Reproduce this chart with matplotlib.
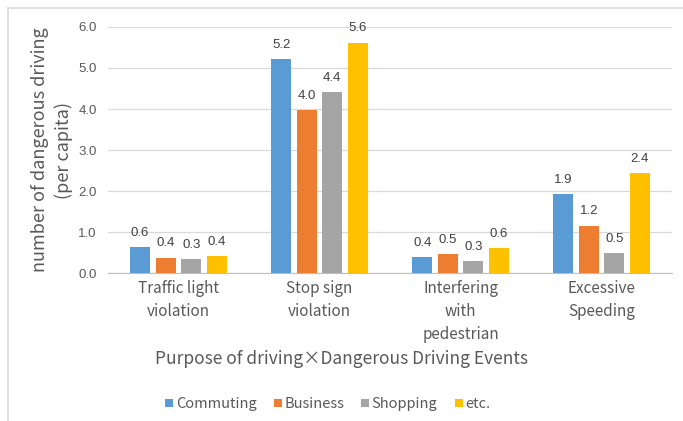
import matplotlib.pyplot as plt
import numpy as np

plt.rcParams['font.family'] = ['Noto Sans CJK JP', 'DejaVu Sans']

categories = ['Traffic light\nviolation', 'Stop sign\nviolation',
              'Interfering\nwith\npedestrian', 'Excessive\nSpeeding']
series = ['Commuting', 'Business', 'Shopping', 'etc.']
commuting = [0.63, 5.22, 0.39, 1.92]
business = [0.38, 3.97, 0.46, 1.16]
shopping = [0.34, 4.41, 0.29, 0.49]
etc = [0.41, 5.62, 0.62, 2.44]
yticks = [0.0, 1.0, 2.0, 3.0, 4.0, 5.0, 6.0]

colors = ['#5B9BD5', '#ED7D31', '#A5A5A5', '#FFC000']
text_grey = '#595959'

fig = plt.figure(figsize=(6.83, 4.21), dpi=100)
ax = fig.add_axes([0.158, 0.351, 0.826, 0.585])

# light frame around the whole chart
fig.patches.append(plt.Rectangle((0.012, -0.01), 1.0, 0.99, transform=fig.transFigure,
                                 fill=False, edgecolor='#D9D9D9', linewidth=1.2))

x = np.arange(len(categories))
step = 0.181
width = 0.142
for i, (name, vals) in enumerate(zip(series, [commuting, business, shopping, etc])):
    pos = x + (i - 1.5) * step
    bars = ax.bar(pos, vals, width, color=colors[i], label=name, zorder=3)
    for b, v in zip(bars, vals):
        ax.text(b.get_x() + b.get_width() / 2, v + 0.2, '%.1f' % v,
                ha='center', va='bottom', fontsize=9.5, color='#404040',
                family=['Liberation Sans', 'DejaVu Sans'])

ax.set_xlim(-0.5, len(categories) - 0.5)
ax.set_ylim(0, 6.0)
ax.set_yticks(yticks)
ax.set_yticklabels(['%.1f' % t for t in yticks], fontsize=9.5, color=text_grey,
                   family=['Liberation Sans', 'DejaVu Sans'])
ax.set_xticks(x)
ax.set_xticklabels(categories, fontsize=11, color=text_grey, linespacing=1.45, va='top')
ax.tick_params(length=0, pad=8)
ax.tick_params(axis='x', pad=5)
ax.grid(axis='y', color='#D9D9D9', linewidth=0.9, zorder=0)
for s in ['top', 'right', 'left']:
    ax.spines[s].set_visible(False)
ax.spines['bottom'].set_color('#BFBFBF')

ax.set_ylabel('number of dangerous driving\n(per capita)', fontsize=13,
              color=text_grey, linespacing=1.35, labelpad=4)

fig.text(0.5, 0.148, 'Purpose of driving×Dangerous Driving Events', ha='center', va='center',
         fontsize=12.5, color=text_grey)

fig.legend(loc='center', bbox_to_anchor=(0.48, 0.04), ncol=4, frameon=False,
           fontsize=10.5, handlelength=0.55, handleheight=0.55, handletextpad=0.15,
           columnspacing=1.2, labelcolor=text_grey)

fig.savefig('out.png', dpi=100)
